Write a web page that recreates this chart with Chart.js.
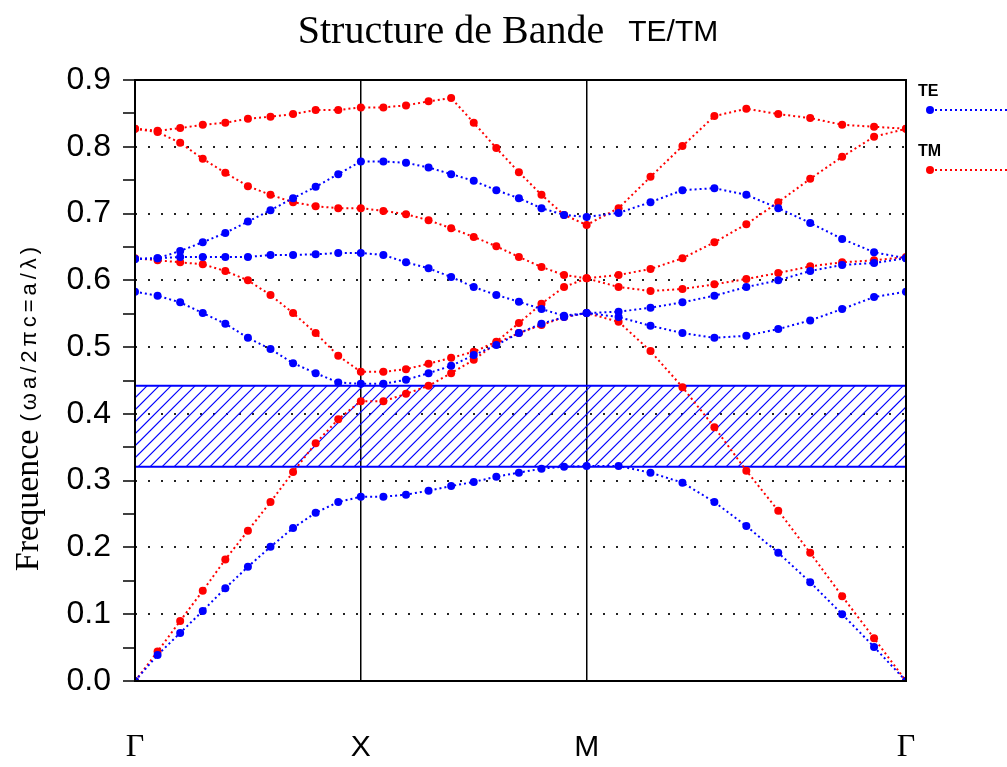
<!DOCTYPE html>
<html>
<head>
<meta charset="utf-8">
<script src="https://cdn.jsdelivr.net/npm/chart.js@4.4.0/dist/chart.umd.min.js"></script>
<style>
    html, body { margin: 0; padding: 0; background: #fff; }
    #wrap { width: 1007px; height: 767px; }
</style>
</head>
<body>
<div id="wrap"><canvas id="bandChart" width="1007" height="767"></canvas></div>
<script>
// k path: Gamma-X (0..1), X-M (1..2), M-Gamma (2..2+sqrt2)
const kPath = [0, 0.1, 0.2, 0.3, 0.4, 0.5, 0.6, 0.7, 0.8, 0.9, 1.0,
    1.1, 1.2, 1.3, 1.4, 1.5, 1.6, 1.7, 1.8, 1.9, 2.0,
    2.1414, 2.2828, 2.4243, 2.5657, 2.7071, 2.8485, 2.9899, 3.1314, 3.2728, 3.4142];
const kTicks = [0, 1, 2, 3.4142];
const kLabels = ['Γ', 'X', 'M', 'Γ'];

// TE bands (blue)
const te1 = [0, 0.039, 0.072, 0.105, 0.139, 0.171, 0.201, 0.229, 0.252, 0.268, 0.276,
    0.276, 0.279, 0.285, 0.292, 0.298, 0.306, 0.312, 0.318, 0.321, 0.322,
    0.322, 0.312, 0.297, 0.268, 0.232, 0.192, 0.148, 0.100, 0.051, 0];
const te2 = [0.583, 0.577, 0.567, 0.551, 0.535, 0.514, 0.497, 0.476, 0.461, 0.447, 0.445,
    0.445, 0.451, 0.461, 0.472, 0.488, 0.503, 0.521, 0.535, 0.545, 0.551,
    0.545, 0.532, 0.521, 0.514, 0.517, 0.527, 0.540, 0.557, 0.575, 0.583];
const te3 = [0.632, 0.633, 0.644, 0.657, 0.671, 0.688, 0.705, 0.723, 0.740, 0.759, 0.778,
    0.778, 0.776, 0.769, 0.759, 0.749, 0.735, 0.723, 0.708, 0.698, 0.695,
    0.701, 0.717, 0.735, 0.738, 0.728, 0.708, 0.686, 0.662, 0.642, 0.633];
const te4 = [0.632, 0.633, 0.635, 0.635, 0.635, 0.635, 0.638, 0.638, 0.639, 0.641, 0.641,
    0.638, 0.627, 0.618, 0.605, 0.590, 0.578, 0.568, 0.557, 0.547, 0.551,
    0.553, 0.559, 0.567, 0.577, 0.590, 0.600, 0.614, 0.623, 0.626, 0.633];

// TM bands (red)
const tm1 = [0, 0.044, 0.090, 0.135, 0.182, 0.225, 0.268, 0.313, 0.356, 0.392, 0.419,
    0.419, 0.430, 0.442, 0.461, 0.481, 0.506, 0.521, 0.533, 0.545, 0.551,
    0.538, 0.494, 0.440, 0.380, 0.315, 0.255, 0.192, 0.127, 0.064, 0];
const tm2 = [0.633, 0.630, 0.627, 0.624, 0.614, 0.600, 0.578, 0.551, 0.521, 0.487, 0.463,
    0.463, 0.467, 0.475, 0.484, 0.493, 0.508, 0.536, 0.565, 0.590, 0.603,
    0.590, 0.584, 0.587, 0.594, 0.602, 0.611, 0.621, 0.627, 0.630, 0.635];
const tm3 = [0.827, 0.822, 0.806, 0.782, 0.761, 0.741, 0.728, 0.717, 0.711, 0.708, 0.708,
    0.704, 0.699, 0.690, 0.678, 0.665, 0.651, 0.635, 0.620, 0.608, 0.603,
    0.608, 0.617, 0.633, 0.657, 0.684, 0.717, 0.752, 0.785, 0.815, 0.827];
const tm4 = [0.827, 0.824, 0.828, 0.833, 0.836, 0.842, 0.845, 0.849, 0.855, 0.855, 0.859,
    0.859, 0.862, 0.868, 0.873, 0.836, 0.798, 0.762, 0.728, 0.698, 0.683,
    0.708, 0.755, 0.801, 0.846, 0.857, 0.849, 0.843, 0.833, 0.830, 0.827];

// photonic band gap
const gapLow = 0.321;
const gapHigh = 0.442;

const teBands = [te1, te2, te3, te4];
const tmBands = [tm1, tm2, tm3, tm4];

const BLUE = '#0000ff';
const RED = '#ff0000';

function makeSet(name, band, color) {
    return {
        label: name,
        data: band.map((v, i) => ({ x: kPath[i], y: v })),
        borderColor: color,
        backgroundColor: color,
        borderWidth: 2,
        borderDash: [2, 3],
        pointRadius: 4,
        pointHoverRadius: 4,
        pointBorderWidth: 0,
        pointBackgroundColor: color,
        tension: 0,
        fill: false
    };
}

const datasets = [];
teBands.forEach((b, i) => datasets.push(makeSet('TE' + (i + 1), b, BLUE)));
tmBands.forEach((b, i) => datasets.push(makeSet('TM' + (i + 1), b, RED)));

// hatched band gap, drawn under the bands
const gapPlugin = {
    id: 'gap',
    beforeDatasetsDraw(chart) {
        const { ctx, chartArea: a, scales: { y } } = chart;
        const top = y.getPixelForValue(gapHigh);
        const bot = y.getPixelForValue(gapLow);
        const h = bot - top;
        ctx.save();
        ctx.beginPath();
        ctx.rect(a.left, top, a.right - a.left, h);
        ctx.clip();
        ctx.strokeStyle = BLUE;
        ctx.lineWidth = 1.2;
        ctx.beginPath();
        for (let x0 = a.left - h; x0 < a.right + 12; x0 += 12) {
            ctx.moveTo(x0, bot);
            ctx.lineTo(x0 + h, top);
        }
        ctx.stroke();
        ctx.restore();

        ctx.save();
        ctx.strokeStyle = BLUE;
        ctx.lineWidth = 2;
        ctx.beginPath();
        ctx.moveTo(a.left, top); ctx.lineTo(a.right, top);
        ctx.moveTo(a.left, bot); ctx.lineTo(a.right, bot);
        ctx.stroke();
        ctx.restore();
    }
};

// frame, titles, k-point labels and legend
const decorPlugin = {
    id: 'decor',
    afterDraw(chart) {
        const { ctx, chartArea: a, scales: { x } } = chart;
        ctx.save();
        ctx.strokeStyle = '#000';
        ctx.lineWidth = 2;
        ctx.strokeRect(a.left, a.top, a.right - a.left, a.bottom - a.top);

        // title
        ctx.fillStyle = '#000';
        ctx.textBaseline = 'alphabetic';
        const t1 = 'Structure de Bande';
        const t2 = 'TE/TM';
        ctx.font = '40px "Liberation Serif"';
        const w1 = ctx.measureText(t1).width;
        ctx.font = '30px "Liberation Sans"';
        const w2 = ctx.measureText(t2).width;
        const gap = 24;
        let sx = 508 - (w1 + gap + w2) / 2;
        ctx.font = '40px "Liberation Serif"';
        ctx.textAlign = 'left';
        ctx.fillText(t1, sx, 43);
        ctx.font = '30px "Liberation Sans"';
        ctx.fillText(t2, sx + w1 + gap, 41);

        // y axis title
        ctx.save();
        ctx.translate(38, 407);
        ctx.rotate(-Math.PI / 2);
        const y1 = 'Frequence';
        const y2 = '(ωa/2πc=a/λ)';
        ctx.font = '34px "Liberation Serif"';
        const wy1 = ctx.measureText(y1).width;
        ctx.font = '22px "Liberation Sans"';
        ctx.letterSpacing = '4px';
        const wy2 = ctx.measureText(y2).width;
        ctx.letterSpacing = '0px';
        const gy = 8;
        let sy = -(wy1 + gy + wy2) / 2;
        ctx.font = '34px "Liberation Serif"';
        ctx.fillText(y1, sy, 0);
        ctx.font = '22px "Liberation Sans"';
        ctx.letterSpacing = '4px';
        ctx.fillText(y2, sy + wy1 + gy, -2);
        ctx.letterSpacing = '0px';
        ctx.restore();

        // k-point labels
        ctx.textAlign = 'center';
        ctx.textBaseline = 'middle';
        kTicks.forEach((k, i) => {
            ctx.font = kLabels[i] === 'Γ' ? '32px "Liberation Serif"' : '30px "Liberation Sans"';
            ctx.fillText(kLabels[i], x.getPixelForValue(k), 748);
        });

        // legend
        const items = [['TE', BLUE, 96, 110], ['TM', RED, 156, 170]];
        items.forEach(([name, color, ty, ly]) => {
            ctx.textAlign = 'left';
            ctx.textBaseline = 'alphabetic';
            ctx.fillStyle = '#000';
            ctx.font = 'bold 16px "Liberation Sans"';
            ctx.fillText(name, 918, ty);
            ctx.strokeStyle = color;
            ctx.lineWidth = 2;
            ctx.setLineDash([2, 3]);
            ctx.beginPath();
            ctx.moveTo(930, ly); ctx.lineTo(1007, ly);
            ctx.stroke();
            ctx.setLineDash([]);
            ctx.fillStyle = color;
            ctx.beginPath();
            ctx.arc(930, ly, 4, 0, Math.PI * 2);
            ctx.fill();
        });
        ctx.restore();
    }
};

new Chart(document.getElementById('bandChart'), {
    type: 'line',
    data: { datasets: datasets },
    options: {
        responsive: false,
        animation: false,
        layout: { padding: { top: 80, right: 101, left: 0, bottom: 0 } },
        plugins: {
            legend: { display: false },
            tooltip: { enabled: false },
            title: { display: false }
        },
        scales: {
            x: {
                type: 'linear',
                min: 0,
                max: kTicks[3],
                afterBuildTicks: s => { s.ticks = kTicks.map(v => ({ value: v })); },
                afterFit: s => { s.height = 86; },
                ticks: { display: false },
                grid: { color: '#000', lineWidth: 1.5, drawTicks: false },
                border: { display: false }
            },
            y: {
                min: 0,
                max: 0.9,
                afterFit: s => { s.width = 135; },
                ticks: {
                    stepSize: 0.05,
                    autoSkip: false,
                    color: '#000',
                    padding: 12,
                    font: { family: '"Liberation Sans"', size: 32 },
                    callback: v => (Math.round(v * 100) % 10 === 0 ? v.toFixed(1) : '')
                },
                grid: {
                    color: c => {
                        const r = Math.round(c.tick.value * 100);
                        return (r % 10 === 0 && r > 0 && r < 90) ? '#222' : 'rgba(0,0,0,0)';
                    },
                    lineWidth: 2,
                    tickColor: '#000',
                    tickLength: 12,
                    tickWidth: 1.5
                },
                border: { display: false, dash: [2, 11] }
            }
        }
    },
    plugins: [gapPlugin, decorPlugin]
});
</script>
</body>
</html>
